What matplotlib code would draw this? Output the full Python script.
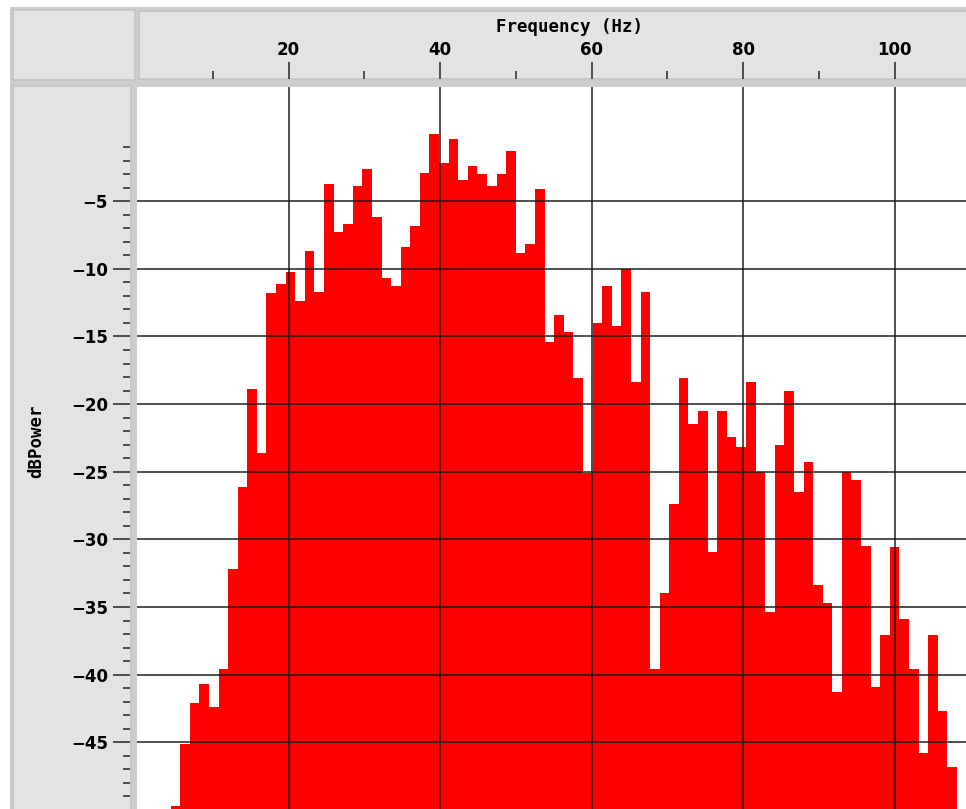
import numpy as np
import matplotlib
matplotlib.use("Agg")
import matplotlib.pyplot as plt
from matplotlib.patches import Rectangle

# Spectrum bins: centre frequency (Hz) and power (dB)
BIN_HZ = 1.2656
freq_hz = [
    5.06, 6.33, 7.59, 8.86, 10.12, 11.39, 12.66, 13.92, 15.19, 16.45,
    17.72, 18.98, 20.25, 21.52, 22.78, 24.05, 25.31, 26.58, 27.84, 29.11,
    30.37, 31.64, 32.91, 34.17, 35.44, 36.70, 37.97, 39.23, 40.50, 41.76,
    43.03, 44.30, 45.56, 46.83, 48.09, 49.36, 50.62, 51.89, 53.16, 54.42,
    55.69, 56.95, 58.22, 59.48, 60.75, 62.01, 63.28, 64.55, 65.81, 67.08,
    68.34, 69.61, 70.87, 72.14, 73.40, 74.67, 75.94, 77.20, 78.47, 79.73,
    81.00, 82.26, 83.53, 84.80, 86.06, 87.33, 88.59, 89.86, 91.12, 92.39,
    93.65, 94.92, 96.19, 97.45, 98.72, 99.98, 101.25, 102.51, 103.78, 105.04,
    106.31, 107.58,
]
power_db = [
    -49.7, -45.1, -42.1, -40.7, -42.4, -39.6, -32.2, -26.1, -18.9, -23.6,
    -11.8, -11.1, -10.2, -12.4, -8.7, -11.7, -3.7, -7.3, -6.7, -3.9,
    -2.6, -6.2, -10.7, -11.3, -8.4, -6.8, -2.9, 0.0, -2.2, -0.4,
    -3.4, -2.4, -3.0, -3.9, -3.0, -1.3, -8.8, -8.2, -4.1, -15.4,
    -13.4, -14.7, -18.1, -25.1, -14.0, -11.3, -14.2, -10.0, -18.4, -11.7,
    -39.6, -34.0, -27.4, -18.1, -21.5, -20.5, -30.9, -20.5, -22.4, -23.2,
    -18.4, -25.0, -35.4, -23.0, -19.0, -26.5, -24.3, -33.4, -34.7, -41.3,
    -25.0, -25.6, -30.5, -40.9, -37.1, -30.6, -35.9, -39.6, -45.8, -37.1,
    -42.7, -46.8,
]

x_major = [20, 40, 60, 80, 100]
x_minor = [10, 30, 50, 70, 90]
y_major = [-45, -40, -35, -30, -25, -20, -15, -10, -5]
y_minor = [v for v in range(-49, 0) if v % 5 != 0]

XLIM = (0, 109.4)
YLIM = (-49.93, 3.44)

W, H = 966, 809
DPI = 100
PT = 72.0 / DPI  # points per pixel

PANEL = "#e3e3e3"
PANEL_EDGE = "#c4c4c4"
BACKDROP = "#cdcdcd"
GRID = "#1a1a1a"
TICKFONT = dict(family="DejaVu Sans", weight="bold", size=12)
LABELFONT = dict(family="DejaVu Sans Mono", weight="bold", size=12.5)


def box(x0, y0, x1, y1):
    """Axes rectangle from pixel edges (origin top-left)."""
    return [x0 / W, 1 - y1 / H, (x1 - x0) / W, (y1 - y0) / H]


def rect(fig, x0, y0, x1, y1, fc, ec=None, lw=0):
    r = Rectangle((x0 / W, 1 - y1 / H), (x1 - x0) / W, (y1 - y0) / H,
                  transform=fig.transFigure, facecolor=fc,
                  edgecolor=ec if ec else fc, linewidth=lw, zorder=0)
    fig.add_artist(r)


fig = plt.figure(figsize=(W / DPI, H / DPI), dpi=DPI)
fig.patch.set_facecolor("white")

# frame and gray panels
rect(fig, 10, 7, W, H, BACKDROP)
rect(fig, 13, 10, 135, 80, PANEL, PANEL_EDGE, 1.2)
rect(fig, 139, 11, W + 2, 79, PANEL, PANEL_EDGE, 1.2)
rect(fig, 13, 86, 131, H + 2, PANEL, PANEL_EDGE, 1.2)

# main plotting area
ax = fig.add_axes(box(137, 87, W, H))
ax.set_facecolor("white")
edges = [f - BIN_HZ / 2 for f in freq_hz] + [freq_hz[-1] + BIN_HZ / 2]
ax.stairs(power_db, edges, baseline=-60, fill=True, color="#ff0000",
          linewidth=0, zorder=1)
ax.set_xlim(*XLIM)
ax.set_ylim(*YLIM)
ax.set_xticks(x_major)
ax.set_yticks(y_major)
ax.grid(True, color=GRID, linewidth=1.5 * PT)
ax.set_axisbelow(False)
ax.tick_params(length=0, labelbottom=False, labelleft=False)
for s in ax.spines.values():
    s.set_visible(False)

# top frequency scale (ticks rise from the panel's lower edge)
axt = fig.add_axes(box(137, 62, W, 79))
axt.patch.set_alpha(0)
axt.set_xlim(*XLIM)
axt.set_xticks(x_major)
axt.set_xticks(x_minor, minor=True)
axt.set_yticks([])
axt.tick_params(axis="x", which="both", direction="in", bottom=True,
                top=False, labelbottom=False, labeltop=True,
                color="#202020", width=1.5 * PT, pad=3 * PT)
axt.tick_params(axis="x", which="major", length=17 * PT)
axt.tick_params(axis="x", which="minor", length=8 * PT)
for lab in axt.get_xticklabels():
    lab.set(**TICKFONT)
for s in axt.spines.values():
    s.set_visible(False)

# left power scale (ticks reach left from the panel's right edge)
axl = fig.add_axes(box(113, 87, 130, H))
axl.patch.set_alpha(0)
axl.set_ylim(*YLIM)
axl.set_yticks(y_major)
axl.set_yticks(y_minor, minor=True)
axl.set_yticklabels([f"\u2212{abs(v)}" for v in y_major])
axl.set_xticks([])
axl.tick_params(axis="y", which="both", direction="in", left=False,
                right=True, labelleft=True, labelright=False,
                color="#202020", width=1.5 * PT, pad=5 * PT)
axl.tick_params(axis="y", which="major", length=17 * PT)
axl.tick_params(axis="y", which="minor", length=7 * PT)
for lab in axl.get_yticklabels():
    lab.set(**TICKFONT)
for s in axl.spines.values():
    s.set_visible(False)

fig.text(569 / W, 1 - 27 / H, "Frequency (Hz)", ha="center", va="center",
         **LABELFONT)
fig.text(36 / W, 1 - 441 / H, "dBPower", ha="center", va="center",
         rotation=90, **LABELFONT)

fig.savefig("out.png", dpi=DPI)
